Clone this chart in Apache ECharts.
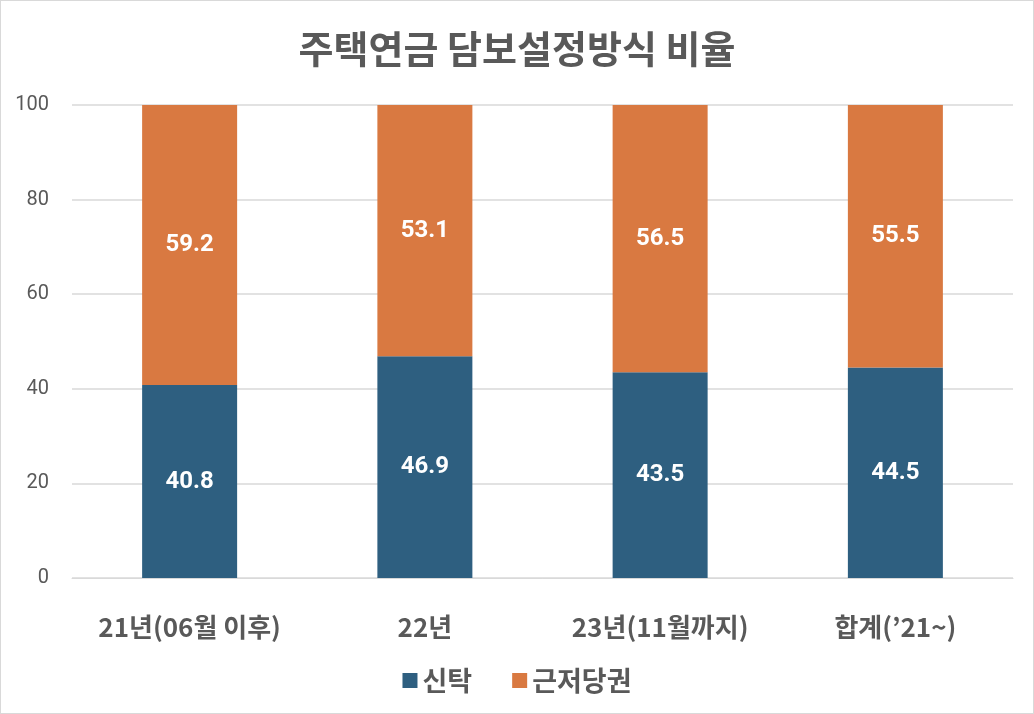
<!DOCTYPE html>
<html>
<head>
<meta charset="utf-8">
<script src="https://cdn.jsdelivr.net/npm/echarts@6/dist/echarts.min.js"></script>
<style>
  html, body { margin: 0; padding: 0; background: #fff; }
  #main { width: 1032px; height: 712px; border: 1px solid #d9d9d9; }
</style>
</head>
<body>
<div id="main"></div>
<script>
var categories = ['21년(06월 이후)', '22년', '23년(11월까지)', '합계(’21~)'];
var trustValues = [40.8, 46.9, 43.5, 44.5];
var mortgageValues = [59.2, 53.1, 56.5, 55.5];
var yTicks = [0, 20, 40, 60, 80, 100];

var font = "'Noto Sans CJK KR', 'Noto Sans', sans-serif";
var myChart = echarts.init(document.getElementById('main'));
var labelStyle = {
    show: true,
    position: 'inside',
    color: '#fff',
    fontSize: 24,
    fontWeight: 'bold',
    fontFamily: 'Roboto, Arial, sans-serif',
    formatter: function (p) { return p.value.toFixed(1); }
};
var option = {
    animation: false,
    title: {
        text: '주택연금 담보설정방식 비율',
        left: 'center',
        top: 24,
        textStyle: { fontFamily: font, fontSize: 38, fontWeight: 'bold', color: '#595959' }
    },
    legend: {
        bottom: 14,
        itemWidth: 15,
        itemHeight: 15,
        itemGap: 40,
        icon: 'rect',
        textStyle: { fontFamily: font, fontSize: 27, fontWeight: 'bold', color: '#595959' },
        data: ['신탁', '근저당권']
    },
    grid: { left: 71, right: 20, top: 104, bottom: 135 },
    xAxis: {
        type: 'category',
        data: categories,
        axisLine: { lineStyle: { color: '#d9d9d9' } },
        axisTick: { show: false },
        axisLabel: { interval: 0, margin: 36, fontFamily: font, fontSize: 26, fontWeight: 'bold', color: '#595959' }
    },
    yAxis: {
        type: 'value',
        min: yTicks[0],
        max: yTicks[yTicks.length - 1],
        interval: 20,
        axisLine: { show: false },
        axisTick: { show: false },
        splitLine: { lineStyle: { color: '#d9d9d9', width: 1.5 } },
        axisLabel: { margin: 23, fontFamily: 'Roboto, Arial, sans-serif', fontSize: 20, color: '#595959' }
    },
    series: [
        {
            name: '신탁',
            type: 'bar',
            stack: 'total',
            barWidth: 95,
            itemStyle: { color: '#2e5f80' },
            label: labelStyle,
            data: trustValues
        },
        {
            name: '근저당권',
            type: 'bar',
            stack: 'total',
            barWidth: 95,
            itemStyle: { color: '#d97941' },
            label: labelStyle,
            data: mortgageValues
        }
    ]
};
myChart.setOption(option);
</script>
</body>
</html>
